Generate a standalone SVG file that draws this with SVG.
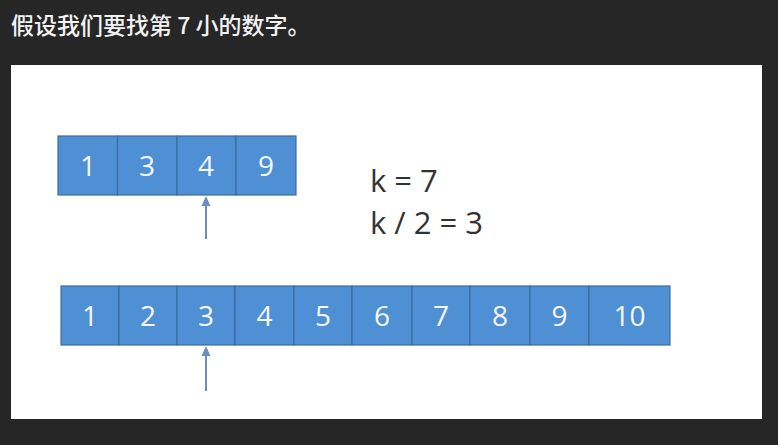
<svg xmlns="http://www.w3.org/2000/svg" width="778" height="445" viewBox="0 0 778 445">
<style>
.cell{fill:#4f8fd3;stroke:#3c6d9e;stroke-width:1.2}
.num{font-family:"Open Sans","Liberation Sans",sans-serif;font-size:28px;fill:#f4f8fc;text-anchor:middle}
.k{font-family:"Open Sans","Liberation Sans",sans-serif;font-size:31px;fill:#333}
.arr{stroke:#6b8fc0;stroke-width:2;fill:none}
.head{fill:#6b8fc0}
</style>
<rect width="778" height="445" fill="#262626"/>
<text x="11" y="34" font-family="'Noto Sans CJK SC',sans-serif" font-size="23" font-weight="500" fill="#f2f2f2">假设我们要找第 7 小的数字。</text>
<rect x="11" y="65" width="751" height="354" fill="#ffffff"/>
<g id="top-array">
<rect class="cell" x="58" y="136" width="59.5" height="59"/>
<rect class="cell" x="117.5" y="136" width="59.5" height="59"/>
<rect class="cell" x="177" y="136" width="59" height="59"/>
<rect class="cell" x="236" y="136" width="60" height="59"/>
<text class="num" x="88" y="176">1</text>
<text class="num" x="147" y="176">3</text>
<text class="num" x="206" y="176">4</text>
<text class="num" x="266" y="176">9</text>
</g>
<g id="bottom-array">
<rect class="cell" x="61" y="286" width="58" height="59"/>
<rect class="cell" x="119" y="286" width="58" height="59"/>
<rect class="cell" x="177" y="286" width="58" height="59"/>
<rect class="cell" x="235" y="286" width="59" height="59"/>
<rect class="cell" x="294" y="286" width="58" height="59"/>
<rect class="cell" x="352" y="286" width="60" height="59"/>
<rect class="cell" x="412" y="286" width="58" height="59"/>
<rect class="cell" x="470" y="286" width="60" height="59"/>
<rect class="cell" x="530" y="286" width="59" height="59"/>
<rect class="cell" x="589" y="286" width="81" height="59"/>
<text class="num" x="90" y="326">1</text>
<text class="num" x="148" y="326">2</text>
<text class="num" x="206" y="326">3</text>
<text class="num" x="264.5" y="326">4</text>
<text class="num" x="323" y="326">5</text>
<text class="num" x="382" y="326">6</text>
<text class="num" x="441" y="326">7</text>
<text class="num" x="500" y="326">8</text>
<text class="num" x="559.5" y="326">9</text>
<text class="num" x="629.5" y="326">10</text>
</g>
<g id="labels">
<text class="k" x="370" y="192">k = 7</text>
<text class="k" x="370" y="234">k / 2 = 3</text>
</g>
<g id="connectors">
<line class="arr" x1="206" y1="239" x2="206" y2="204"/>
<polygon class="head" points="206,196 201.5,206 210.5,206"/>
<line class="arr" x1="206" y1="391" x2="206" y2="354"/>
<polygon class="head" points="206,346 201.5,356 210.5,356"/>
</g>
</svg>
